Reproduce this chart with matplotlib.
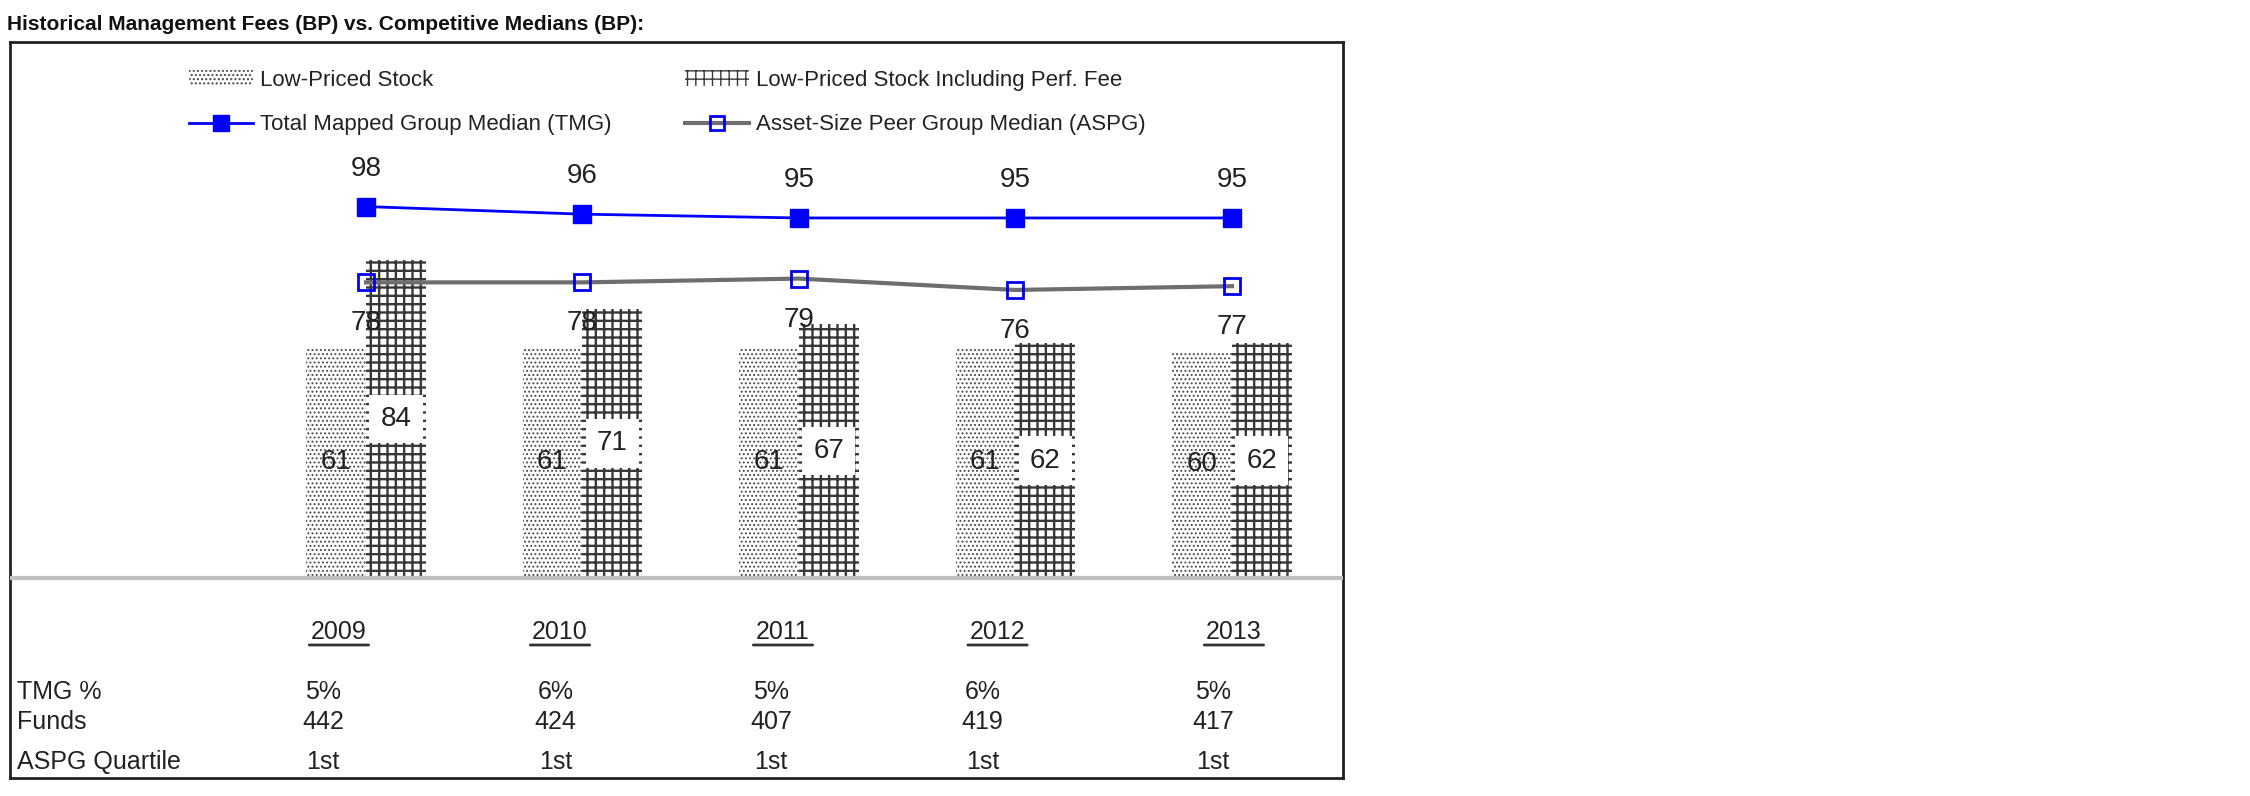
#!/usr/bin/env python3
"""Historical management fees vs competitive medians (BP) - bar/line combo with table."""
import matplotlib
matplotlib.use('Agg')
import matplotlib.pyplot as plt
from matplotlib.patches import Patch
from matplotlib.lines import Line2D

plt.rcParams['font.family'] = ['Liberation Sans', 'DejaVu Sans']

# data
years = ['2009', '2010', '2011', '2012', '2013']
low_priced = [61, 61, 61, 61, 60]
perf_fee = [84, 71, 67, 62, 62]
tmg_median = [98, 96, 95, 95, 95]
aspg_median = [78, 78, 79, 76, 77]
tmg_pct = ['5%', '6%', '5%', '6%', '5%']
funds = ['442', '424', '407', '419', '417']
aspg_quartile = ['1st', '1st', '1st', '1st', '1st']
row_labels = ['TMG %', 'Funds', 'ASPG Quartile']

# layout (pixel-derived offsets, not data)
W, H = 2250, 796
PX_X0, PX_STEP = 366, 216.5      # group centre of first year, spacing
PX_Y0, PX_UNIT = 578, 3.79       # baseline, px per BP
BOX = (10, 42, 1343, 778)        # left, top, right, bottom in px
year_dx = [-0.125, -0.104, -0.074, -0.083, 0.009]
table_dx = [-0.199, -0.125, -0.129, -0.152, -0.088]
bar_w = 0.277
DOT = dict(hatch='....', edgecolor='#4a4a4a')
GRID = dict(hatch='++', edgecolor='#383838')


def px2x(p):
    return (p - PX_X0) / PX_STEP


def px2y(p):
    return (PX_Y0 - p) / PX_UNIT


fig = plt.figure(figsize=(W / 100, H / 100), dpi=100)
l, t, r, b = BOX
ax = fig.add_axes([l / W, 1 - b / H, (r - l) / W, (b - t) / H])
ax.set_xlim(px2x(l), px2x(r))
ax.set_ylim(px2y(b), px2y(t))
ax.set_xticks([])
ax.set_yticks([])
for s in ax.spines.values():
    s.set_color('#222222')
    s.set_linewidth(2)

x = list(range(len(years)))

with plt.rc_context({'hatch.linewidth': 0.9}):
    ax.bar([i - bar_w / 2 for i in x], low_priced, width=bar_w, color='white',
           linewidth=0, zorder=2, **DOT)
    p_low = Patch(facecolor='white', linewidth=0, label='Low-Priced Stock', **DOT)
with plt.rc_context({'hatch.linewidth': 1.7}):
    ax.bar([i + bar_w / 2 for i in x], perf_fee, width=bar_w, color='white',
           linewidth=0, zorder=2, **GRID)
    p_perf = Patch(facecolor='white', linewidth=0,
                   label='Low-Priced Stock Including Perf. Fee', **GRID)
ax.axhline(0, color='#c0c0c0', lw=3, zorder=3)

ax.plot(x, tmg_median, color='#0000ff', lw=2, marker='s', ms=13,
        mfc='#0000ff', mec='#0000ff', zorder=5)
ax.plot(x, aspg_median, color='#6e6e6e', lw=3, marker='s', ms=12,
        mfc='none', mec='#0000ee', mew=2, zorder=5)

lab_fs = 20
for i in x:
    ax.text(i, tmg_median[i] + 38 / PX_UNIT, str(tmg_median[i]), ha='center',
            va='center', fontsize=lab_fs, color='#222222', zorder=6)
    ax.text(i, aspg_median[i] - 41 / PX_UNIT, str(aspg_median[i]), ha='center',
            va='center', fontsize=lab_fs, color='#222222', zorder=6)
    ax.text(i - bar_w / 2, low_priced[i] / 2, str(low_priced[i]), ha='center',
            va='center', fontsize=lab_fs, color='#222222', zorder=6)
    ax.text(i + bar_w / 2, perf_fee[i] / 2, str(perf_fee[i]), ha='center',
            va='center', fontsize=lab_fs, color='#222222', zorder=6,
            bbox=dict(boxstyle='square,pad=0.4', fc='white', ec='none'))

# year headers and the small table under the chart
tab_fs = 18
for i, yr in enumerate(years):
    ax.text(i + year_dx[i], px2y(632), yr, ha='center', va='center',
            fontsize=tab_fs, color='#222222')
    ax.annotate('', xy=(i + year_dx[i] - 0.15, px2y(645)),
                xytext=(i + year_dx[i] + 0.15, px2y(645)),
                arrowprops=dict(arrowstyle='-', color='#333333', lw=2))

rows = [tmg_pct, funds, aspg_quartile]
row_y = [692, 722, 762]
for label, vals, py in zip(row_labels, rows, row_y):
    ax.text(px2x(17), px2y(py), label, ha='left', va='center',
            fontsize=tab_fs, color='#222222')
    for i, v in enumerate(vals):
        ax.text(i + table_dx[i], px2y(py), v, ha='center', va='center',
                fontsize=tab_fs, color='#222222')

handles = [
    p_low,
    Line2D([], [], color='#0000ff', lw=2, marker='s', ms=11, mfc='#0000ff',
           mec='#0000ff', label='Total Mapped Group Median (TMG)'),
    p_perf,
    Line2D([], [], color='#6e6e6e', lw=3, marker='s', ms=10, mfc='none',
           mec='#0000ee', mew=2, label='Asset-Size Peer Group Median (ASPG)'),
]
ax.legend(handles=handles, ncol=2, frameon=False, fontsize=16,
          loc='upper left', bbox_to_anchor=((189 - l) / (r - l), 1 - (70 - t) / (b - t)),
          borderaxespad=0, borderpad=0, handlelength=2.9, handletextpad=0.3,
          columnspacing=3.3, labelspacing=1.05, labelcolor='#222222')

fig.text(7 / W, 1 - 24 / H,
         'Historical Management Fees (BP) vs. Competitive Medians (BP):',
         ha='left', va='center', fontsize=15, fontweight='bold', color='#111111')

fig.savefig('out.png', dpi=100)
